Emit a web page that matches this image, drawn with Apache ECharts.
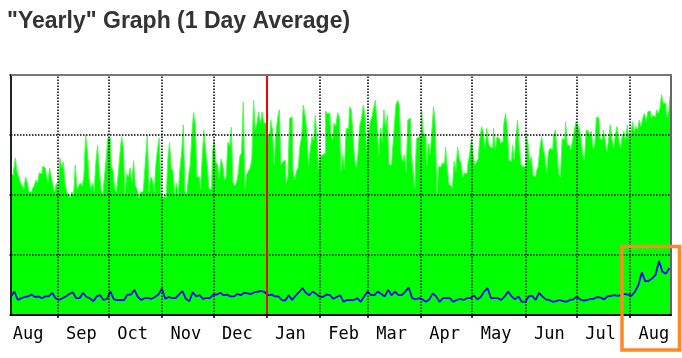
<!DOCTYPE html>
<html><head><meta charset="utf-8">
<script src="https://cdn.jsdelivr.net/npm/echarts@6/dist/echarts.min.js"></script>
<style>html,body{margin:0;padding:0;background:#fff}#c{width:682px;height:358px}</style>
</head><body><div id="c"></div>
<script>
const titleText = '"Yearly" Graph (1 Day Average)';
const monthNames = ['Aug','Sep','Oct','Nov','Dec','Jan','Feb','Mar','Apr','May','Jun','Jul','Aug'];
const monthStartDays = [-4,27,57,88,118,149,180,208,239,269,300,330,361];
const yearBoundaryDay = 149;
const lastDay = 385;
const yMax = 4;
// incoming traffic, one value per day (green area)
const inTraffic = [
2.35,2.33,2.4,2.62,2.4,2.3,2.2,2.15,2.1,2.3,2.2,2.05,2.05,2.1,2.15,2.25,2.2,2.37,2.35,2.48,2.45,2.35,2.2,2.45,2.3,2.15,2.05,2.2,
2.05,2.62,2.45,2.55,2.2,2.05,2.0,1.95,2.05,2.0,2.5,2.1,2.15,2.2,2.15,2.3,3.0,2.75,2.3,2.1,2.2,2.05,2.55,2.83,2.4,2.1,2.0,2.3,2.6,2.95,
2.95,2.5,2.4,2.1,2.05,2.33,2.67,2.97,2.8,2.0,2.35,2.3,2.45,2.2,2.57,2.15,2.1,1.95,2.05,2.05,2.2,2.6,3.0,2.05,2.3,2.25,2.05,2.5,2.78,2.95,1.95,
1.95,2.0,1.95,2.6,2.87,2.45,2.4,2.0,2.2,2.0,2.42,2.7,3.17,2.05,2.0,2.3,2.5,3.0,3.38,3.17,2.3,2.3,2.1,2.6,3.08,2.75,2.5,2.1,2.1,2.7,
2.92,2.55,2.5,2.25,2.6,2.5,2.25,2.3,2.88,2.8,3.13,2.2,2.15,2.2,2.35,2.65,2.7,3.55,2.1,2.35,2.4,2.45,2.6,3.58,3.08,3.2,3.38,3.2,3.38,3.2,3.2,
3.03,3.0,3.25,3.1,2.5,3.0,3.28,3.42,2.5,2.55,2.58,2.2,2.3,3.28,3.3,2.4,2.25,2.4,2.45,2.8,2.97,3.5,3.33,3.1,2.5,2.75,2.97,2.9,3.33,2.95,2.4,
2.65,2.67,2.7,3.4,3.35,3.37,3.03,2.92,3.2,3.15,3.37,3.3,2.39,2.67,2.44,3.11,3.1,3.47,3.42,3.0,2.56,2.47,2.72,3.17,3.28,3.5,3.33,2.72,
3.0,3.22,3.3,3.44,3.58,3.22,2.67,3.11,2.89,3.42,3.11,3.33,2.5,2.5,2.72,3.11,3.5,3.58,3.5,2.67,2.56,2.67,2.39,3.25,3.28,2.67,2.4,2.11,2.94,2.97,2.97,
3.42,3.03,3.0,2.5,2.86,2.67,3.08,3.47,3.17,2.0,2.47,2.47,2.53,2.53,2.8,2.44,2.17,
2.15,2.11,2.56,2.39,2.8,2.6,2.53,2.3,2.36,2.36,2.53,2.67,2.92,2.69,2.5,2.55,2.6,2.94,3.14,3.05,2.75,3.11,2.86,2.8,2.78,3.11,2.75,2.97,2.94,2.86,2.89,3.19,3.36,3.11,2.58,2.56,2.83,2.58,2.94,3.25,2.8,2.5,2.47,2.47,
3.0,2.89,2.56,2.64,2.33,2.3,2.4,2.47,2.78,2.97,2.78,2.64,2.39,2.72,2.78,2.75,3.0,3.08,2.75,2.35,2.3,2.94,
2.92,3.22,2.83,2.83,2.75,2.89,3.06,3.22,3.17,3.1,2.94,2.67,2.58,3.08,3.06,3.0,3.06,2.78,2.83,3.3,3.28,2.94,2.92,3.08,2.94,2.72,2.89,3.17,2.94,2.78,
3.0,3.14,2.94,2.78,2.97,3.06,2.89,3.17,2.92,3.0,3.22,3.06,3.14,3.08,3.25,3.14,3.28,3.36,3.22,3.39,3.4,3.28,3.33,3.3,3.42,3.36,3.44,3.67,3.53,3.53,3.3,3.36,3.65
];
// outgoing traffic, one value every 2 days (blue line)
const outStepDays = 2;
const outTraffic = [
0.31,0.39,0.25,0.28,0.30,0.31,0.34,0.30,0.31,0.28,
0.31,0.31,0.37,0.28,0.25,0.28,0.31,0.35,0.38,0.28,
0.28,0.37,0.30,0.28,0.23,0.31,0.33,0.25,0.27,0.39,
0.26,0.25,0.25,0.25,0.34,0.34,0.42,0.30,0.25,0.28,
0.28,0.27,0.30,0.34,0.44,0.27,0.30,0.28,0.28,0.34,
0.40,0.27,0.23,0.38,0.31,0.33,0.27,0.28,0.28,0.34,
0.34,0.37,0.33,0.34,0.31,0.31,0.35,0.33,0.37,0.36,
0.35,0.38,0.39,0.40,0.38,0.33,0.34,0.31,0.31,0.25,
0.24,0.33,0.25,0.32,0.38,0.45,0.37,0.33,0.39,0.35,
0.31,0.30,0.34,0.33,0.27,0.30,0.33,0.22,0.25,0.25,
0.25,0.28,0.22,0.31,0.39,0.33,0.33,0.39,0.35,0.31,
0.42,0.33,0.39,0.33,0.33,0.39,0.46,0.28,0.26,0.28,
0.26,0.22,0.26,0.36,0.31,0.22,0.28,0.28,0.28,0.22,
0.25,0.27,0.25,0.28,0.28,0.33,0.26,0.30,0.39,0.45,
0.28,0.28,0.28,0.25,0.31,0.39,0.31,0.26,0.31,0.22,
0.22,0.31,0.32,0.25,0.37,0.31,0.26,0.25,0.22,0.23,
0.25,0.23,0.22,0.25,0.26,0.31,0.26,0.24,0.25,0.27,
0.27,0.30,0.29,0.26,0.31,0.32,0.33,0.32,0.33,0.35,
0.34,0.32,0.39,0.50,0.71,0.56,0.57,0.61,0.67,0.90,
0.72,0.69,0.78
];

const labelDays = monthStartDays.map(d => d + 14);
const gridDays = monthStartDays.filter(d => d > 0 && d < lastDay);
const inData = inTraffic.map((v, i) => [i, v]);
const outData = outTraffic.map((v, i) => [i * outStepDays, v]);

const chart = echarts.init(document.getElementById('c'), null, {renderer: 'canvas'});
const dotted = {color: '#000', width: 1.5, type: [1.5, 1.5]};
chart.setOption({
  animation: false,
  backgroundColor: '#fff',
  title: {
    text: titleText, left: 7, top: 10, padding: 0,
    textStyle: {fontFamily: 'Liberation Sans', fontWeight: 'bold', fontSize: 23, color: '#333'}
  },
  grid: {left: 11, top: 75, right: 11, bottom: 43, containLabel: false, outerBoundsMode: 'none',
    show: true, borderColor: '#777', borderWidth: 2, backgroundColor: 'transparent'},
  xAxis: [{
    type: 'value', min: 0, max: lastDay, z: 10,
    axisLine: {show: true, lineStyle: {color: '#111', width: 2}},
    axisTick: {show: true, customValues: gridDays, length: 3, lineStyle: {color: '#000', width: 1.5}},
    axisLabel: {
      customValues: labelDays, margin: 11, color: '#000',
      fontFamily: 'DejaVu Sans Mono', fontSize: 17,
      formatter: v => monthNames[labelDays.indexOf(Math.round(v))] || ''
    },
    splitLine: {show: false}
  }, {
    type: 'value', min: 0, max: lastDay, position: 'top', z: 10,
    axisLine: {show: true, onZero: false, lineStyle: {color: '#777', width: 2}},
    axisTick: {show: false}, axisLabel: {show: false}, splitLine: {show: false}
  }],
  yAxis: [{
    type: 'value', min: 0, max: yMax, interval: 1, z: 10,
    axisLine: {show: true, lineStyle: {color: '#222', width: 2}},
    axisTick: {show: true, length: 3, lineStyle: {color: '#000', width: 1.5, type: [1.5, 1.5]}},
    axisLabel: {show: false},
    splitLine: {show: false}
  }, {
    type: 'value', min: 0, max: yMax, interval: 1, position: 'right', z: 10,
    axisLine: {show: true, onZero: false, lineStyle: {color: '#666', width: 2}},
    axisTick: {show: false}, axisLabel: {show: false}, splitLine: {show: false}
  }],
  series: [
    {
      type: 'line', data: inData, step: 'middle', symbol: 'none', z: 2,
      lineStyle: {color: '#4dff4d', width: 1},
      areaStyle: {color: '#00ff00', opacity: 1}
    },
    {
      type: 'line', data: [], z: 3, silent: true, xAxisIndex: 1, yAxisIndex: 1,
      markLine: {
        symbol: ['none', 'none'], silent: true, animation: false,
        label: {show: false}, lineStyle: dotted,
        data: [1, 2, 3].map(v => ({yAxis: v})).concat(gridDays.map(d => ({xAxis: d})))
      }
    },
    {
      type: 'line', data: outData, symbol: 'none', z: 4,
      lineStyle: {color: '#0000ff', width: 1.8}
    },
    {
      type: 'line', data: [], z: 5, silent: true,
      markLine: {
        symbol: ['none', 'none'], silent: true, animation: false,
        label: {show: false}, lineStyle: {color: '#ff0000', width: 2, type: 'solid'},
        data: [{xAxis: yearBoundaryDay}]
      }
    }
  ],
  graphic: [{
    type: 'rect', z: 100, silent: true,
    shape: {x: 622, y: 246.5, width: 57.5, height: 103.5},
    style: {fill: 'none', stroke: '#ff8726', lineWidth: 3.5}
  }]
});
</script>
</body></html>
